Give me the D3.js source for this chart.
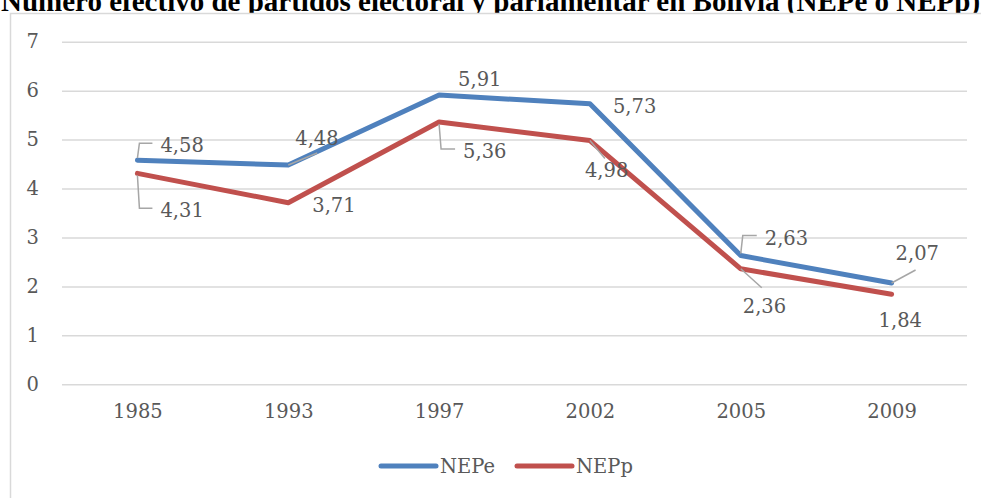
<!DOCTYPE html>
<html lang="es">
<head>
  <meta charset="utf-8">
  <title>NEPe / NEPp Bolivia</title>
  <script src="https://d3js.org/d3.v7.min.js"></script>
  <style>
    body { margin: 0; background: #fff; }
    svg { display: block; }
  </style>
</head>
<body>
<div id="chart"></div>
<script>
  // data
  var years = ["1985", "1993", "1997", "2002", "2005", "2009"];
  var nepe = [4.58, 4.48, 5.91, 5.73, 2.63, 2.07];
  var nepp = [4.31, 3.71, 5.36, 4.98, 2.36, 1.84];
  var yTicks = [0, 1, 2, 3, 4, 5, 6, 7];
  var seriesNames = ["NEPe", "NEPp"];
  var titleText = "Número efectivo de partidos electoral y parlamentar en Bolivia (NEPe o NEPp)";

  // label placement (text start dx, baseline dy, leader kind, leader end)
  var nepeLabels = [
    { dx: 23, dy: -8, leader: "bracket" },
    { dx: 7, dy: -20, leader: "line", lx: 29, ly: -12 },
    { dx: 19, dy: -9 },
    { dx: 23, dy: 9 },
    { dx: 24, dy: -11, leader: "bracket" },
    { dx: 4, dy: -23, leader: "line", lx: 24, ly: -13 }
  ];
  var neppLabels = [
    { dx: 23, dy: 44, leader: "bracket" },
    { dx: 24, dy: 9 },
    { dx: 24, dy: 36, leader: "bracket" },
    { dx: -5, dy: 36, leader: "line", lx: 15, ly: 18 },
    { dx: 2, dy: 44, leader: "line", lx: 21, ly: 19 },
    { dx: -13, dy: 33 }
  ];

  var width = 981, height = 498;
  var font = "'DejaVu Serif', serif";
  var textColor = "#595959";
  var colors = ["#4f81bd", "#c0504d"];

  var svg = d3.select("#chart").append("svg")
    .attr("width", width)
    .attr("height", height);

  // title (its top is cut off in the source picture)
  svg.append("text")
    .attr("x", 1)
    .attr("y", 11)
    .attr("font-family", "'Liberation Serif', 'Times New Roman', serif")
    .attr("font-weight", "bold")
    .attr("font-size", "29px")
    .attr("fill", "#000")
    .text(titleText);

  // chart frame
  svg.append("rect")
    .attr("x", 10.5)
    .attr("y", 13.5)
    .attr("width", 1000)
    .attr("height", 500)
    .attr("fill", "#fff")
    .attr("stroke", "#d9d9d9")
    .attr("stroke-width", 1.5);

  var x = d3.scalePoint().domain(years).range([62, 967]).padding(0.5);
  var y = d3.scaleLinear().domain([0, 7]).range([384.3, 41.7]);

  // grid + y axis
  var yAxis = svg.append("g")
    .attr("transform", "translate(62,0)")
    .call(d3.axisLeft(y).tickValues(yTicks).tickFormat(d3.format("d")).tickSize(-905).tickPadding(23));
  yAxis.select(".domain").remove();
  yAxis.selectAll(".tick line").attr("stroke", "#d9d9d9").attr("stroke-width", 1.5);
  yAxis.selectAll(".tick text")
    .attr("font-family", font).attr("font-size", "19.5px").attr("fill", textColor);

  // x axis labels
  var xAxis = svg.append("g")
    .attr("transform", "translate(0,384.3)")
    .call(d3.axisBottom(x).tickSize(0).tickPadding(20));
  xAxis.select(".domain").remove();
  xAxis.selectAll(".tick text")
    .attr("font-family", font).attr("font-size", "19.5px").attr("fill", textColor);

  var line = d3.line()
    .x(function(d, i) { return x(years[i]); })
    .y(function(d) { return y(d); });

  var allSeries = [nepe, nepp];
  var allLabels = [nepeLabels, neppLabels];

  allSeries.forEach(function(vals, s) {
    svg.append("path")
      .datum(vals)
      .attr("d", line)
      .attr("fill", "none")
      .attr("stroke", colors[s])
      .attr("stroke-width", 5)
      .attr("stroke-linejoin", "round")
      .attr("stroke-linecap", "round");
  });

  // leaders + data labels
  allSeries.forEach(function(vals, s) {
    var g = svg.append("g");
    vals.forEach(function(v, i) {
      var px = x(years[i]), py = y(v);
      var lab = allLabels[s][i];
      var tx = px + lab.dx, ty = py + lab.dy;
      if (lab.leader === "bracket") {
        var my = ty - 9;
        g.append("path")
          .attr("d", "M" + px + "," + (py + (my < py ? -2 : 2)) + "L" + (px + 2) + "," + my + "L" + (tx - 8) + "," + my)
          .attr("fill", "none").attr("stroke", "#a6a6a6").attr("stroke-width", 1.5);
      } else if (lab.leader === "line") {
        g.append("line")
          .attr("x1", px).attr("y1", py)
          .attr("x2", px + lab.lx).attr("y2", py + lab.ly)
          .attr("stroke", "#a6a6a6").attr("stroke-width", 1.5);
      }
      g.append("text")
        .attr("x", tx)
        .attr("y", ty)
        .attr("font-family", font)
        .attr("font-size", "19.5px")
        .attr("fill", textColor)
        .text(d3.format(".2f")(v).replace(".", ","));
    });
  });

  // legend
  var legendX = [381, 517];
  seriesNames.forEach(function(name, s) {
    svg.append("line")
      .attr("x1", legendX[s]).attr("x2", legendX[s] + 55)
      .attr("y1", 466).attr("y2", 466)
      .attr("stroke", colors[s]).attr("stroke-width", 5)
      .attr("stroke-linecap", "round");
    svg.append("text")
      .attr("x", legendX[s] + 59)
      .attr("y", 473)
      .attr("font-family", font)
      .attr("font-size", "19.5px")
      .attr("fill", textColor)
      .text(name);
  });
</script>
</body>
</html>
